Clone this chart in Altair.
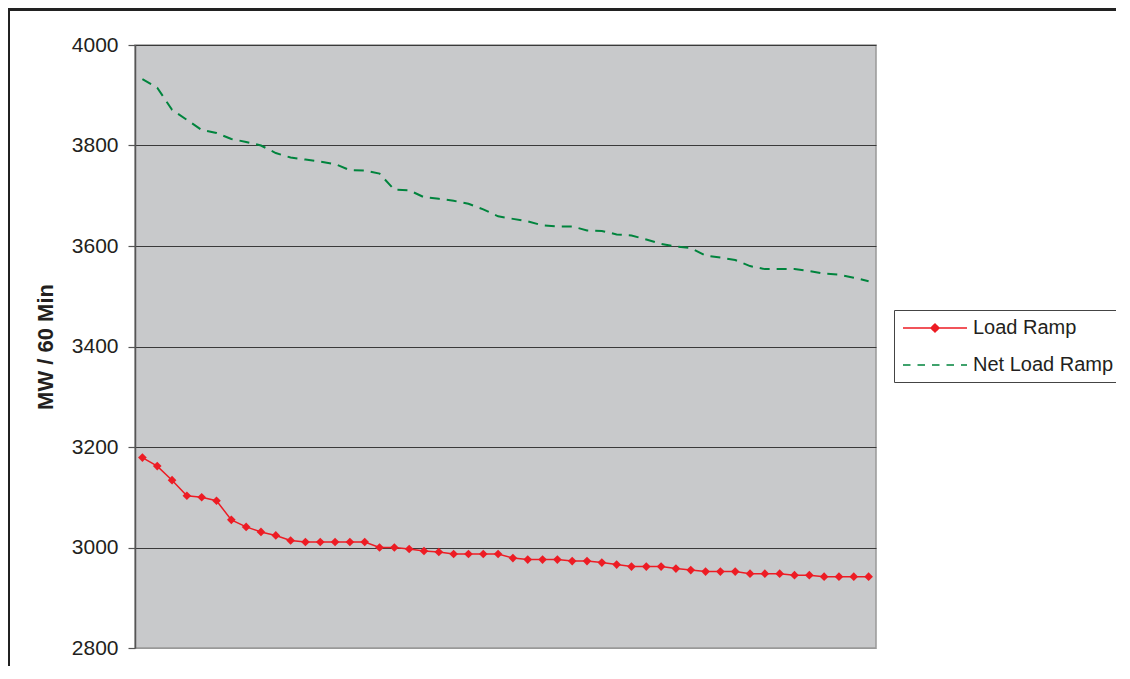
import altair as alt
import pandas as pd

# ---- data ----
idx = list(range(1, 51))
load_ramp = [3179, 3162, 3134, 3103, 3100, 3093, 3055, 3041, 3031, 3024,
             3014, 3011, 3011, 3011, 3011, 3011, 3000, 3000, 2997, 2993,
             2991, 2987, 2987, 2987, 2987, 2979, 2976, 2976, 2976, 2973,
             2973, 2970, 2966, 2962, 2962, 2962, 2958, 2955, 2952, 2952,
             2952, 2948, 2948, 2948, 2945, 2945, 2942, 2942, 2942, 2942]
net_load_ramp = [3932, 3915, 3871, 3851, 3831, 3825, 3813, 3807, 3800, 3785,
                 3776, 3772, 3768, 3763, 3751, 3750, 3744, 3712, 3711, 3697,
                 3694, 3690, 3684, 3673, 3659, 3654, 3649, 3641, 3639, 3639,
                 3631, 3630, 3623, 3621, 3613, 3604, 3599, 3596, 3581, 3577,
                 3572, 3560, 3554, 3554, 3554, 3550, 3545, 3543, 3537, 3530]
series_names = ["Load Ramp", "Net Load Ramp"]
y_ticks = [2800, 3000, 3200, 3400, 3600, 3800, 4000]

RED = "#ED1C24"
GREEN = "#00843D"
FONT = "Liberation Sans"

df = pd.DataFrame({
    "idx": idx * 2,
    "series": [series_names[0]] * len(idx) + [series_names[1]] * len(idx),
    "value": load_ramp + net_load_ramp,
})

x_enc = alt.X("idx:Q", scale=alt.Scale(domain=[0.5, 50.5], nice=False, zero=False), axis=None)
y_enc = alt.Y(
    "value:Q",
    scale=alt.Scale(domain=[2800, 4000], nice=False, zero=False),
    axis=alt.Axis(
        values=y_ticks, format="d", title="MW / 60 Min", grid=True,
        gridColor={"condition": {"test": "datum.value === 2800", "value": "#999999"}, "value": "#3a3a3a"},
        gridWidth=1.2, domainColor="#555555", domainWidth=1.5,
        tickColor="#555555", tickSize=7, tickWidth=1.2,
        labelFont=FONT, labelFontSize=21, labelColor="#231F20", labelPadding=10,
        titleFont=FONT, titleFontSize=22, titleFontWeight="bold", titleColor="#231F20",
        titlePadding=14,
    ),
)

base = alt.Chart(df)

red_line = base.transform_filter(alt.datum.series == series_names[0]).mark_line(
    color=RED, strokeWidth=1.5).encode(x=x_enc, y=y_enc)
red_pts = base.transform_filter(alt.datum.series == series_names[0]).mark_point(
    shape="diamond", filled=True, color=RED, size=75, opacity=1).encode(x=x_enc, y=y_enc)
green_line = base.transform_filter(alt.datum.series == series_names[1]).mark_line(
    color=GREEN, strokeWidth=2, strokeDash=[10, 7]).encode(x=x_enc, y=y_enc)

legend = alt.Legend(
    orient="none", legendX=759, legendY=265, title=None,
    fillColor="white", strokeColor="#444444", padding=7,
    labelFont=FONT, labelFontSize=20, labelColor="#231F20", labelOffset=50,
    symbolSize=400, symbolStrokeWidth=1.5, symbolOpacity=1, rowPadding=16,
)
leg_layer = base.mark_point(filled=True, opacity=0).encode(
    x=x_enc, y=y_enc,
    fill=alt.Fill("series:N", scale=alt.Scale(domain=series_names, range=[RED, GREEN]), legend=legend),
    stroke=alt.Stroke("series:N", scale=alt.Scale(domain=series_names, range=[RED, GREEN]), legend=legend),
    shape=alt.Shape("series:N", scale=alt.Scale(
        domain=series_names,
        range=["M-0.9,0L5.5,0M2.3,-0.4L2.7,0L2.3,0.4L1.9,0Z", "M-0.9,0L5.5,0"]), legend=legend),
    strokeDash=alt.StrokeDash("series:N", scale=alt.Scale(
        domain=series_names, range=[[1, 0], [7.5, 7]]), legend=legend),
)

# outer frame of the figure
frame_top = alt.Chart(df).mark_rule(color="#222222", strokeWidth=2, clip=False).encode(
    x=alt.value(-127), x2=alt.value(1000), y=alt.value(-35.5))
frame_left = alt.Chart(df).mark_rule(color="#222222", strokeWidth=1.5, clip=False).encode(
    x=alt.value(-126.5), y=alt.value(-36), y2=alt.value(640))

chart = alt.layer(red_line, green_line, red_pts, leg_layer, frame_top, frame_left).properties(
    width=741, height=603,
    padding={"left": 127, "top": 37, "right": 240, "bottom": 18},
    autosize=alt.AutoSizeParams(type="none"),
    background="white",
).configure_view(
    fill="#C8C9CB", stroke="#999999", strokeWidth=1.5,
)

chart.save("out.html", embed_options={"renderer": "svg", "actions": False})
